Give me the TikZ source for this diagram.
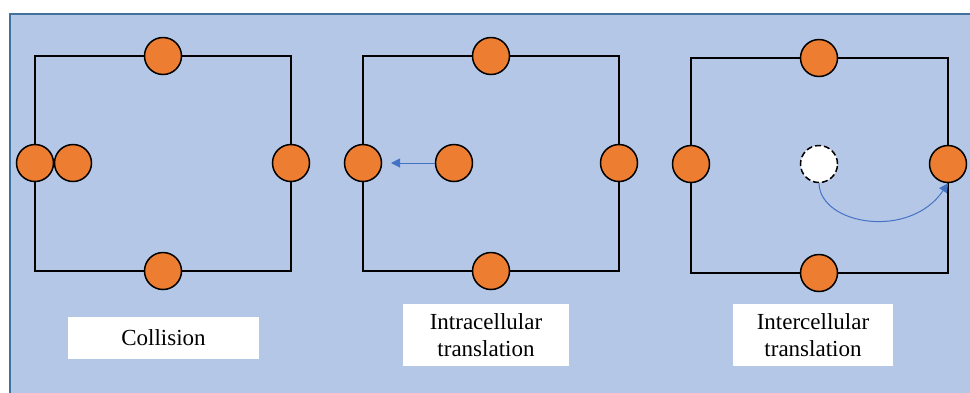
\documentclass[tikz,border=0pt]{standalone}
\usepackage{fontspec}
\setmainfont{Liberation Serif}
\usetikzlibrary{arrows.meta}
\definecolor{panelfill}{HTML}{B4C7E7}
\definecolor{panelline}{HTML}{41719C}
\definecolor{dotfill}{HTML}{ED7D31}
\definecolor{arrowblue}{HTML}{4472C4}
\tikzset{
  cellbox/.style={draw=black, line width=1.5pt},
  dot/.style={circle, draw=black, line width=1.5pt, fill=dotfill, minimum size=37pt, inner sep=0pt},
  ghost/.style={circle, draw=black, dashed, dash pattern=on 6pt off 3pt, line width=1.5pt, fill=white, minimum size=37pt, inner sep=0pt},
  labelbox/.style={fill=white, font=\fontsize{23}{27}\selectfont, align=center, inner sep=0pt},
  move/.style={draw=arrowblue, line width=1pt, -{Triangle[length=9pt,width=9pt]}}
}
\begin{document}
\begin{tikzpicture}[x=1pt,y=-1pt]
\useasboundingbox (0,0) rectangle (970,392);
\fill[white] (0,0) rectangle (970,392);
\draw[fill=panelfill, draw=panelline, line width=1.5pt] (10,14) rectangle (980,400);

% cell 1
\draw[cellbox] (35,56) rectangle (291,271);
\node[dot] (a1) at (163,56) {};
\node[dot] (a2) at (35,163) {};
\node[dot] (a3) at (73,163) {};
\node[dot] (a4) at (291,163) {};
\node[dot] (a5) at (163,271) {};
\node[labelbox, minimum width=191pt, minimum height=42pt] (l1) at (163.5,338) {Collision};

% cell 2
\draw[cellbox] (363,56) rectangle (619,271);
\node[dot] (b1) at (491,56) {};
\node[dot] (b2) at (363,163) {};
\node[dot] (b3) at (454,163) {};
\node[dot] (b4) at (619,163) {};
\node[dot] (b5) at (491,271) {};
\coordinate (b6) at (391,163);
\draw[move] (b3) -- (b6);
\node[labelbox, minimum width=166pt, minimum height=62pt] (l2) at (486,335) {Intracellular\\translation};

% cell 3
\draw[cellbox] (691,58) rectangle (948,273);
\node[dot] (c1) at (819,58) {};
\node[dot] (c2) at (691,164) {};
\node[dot] (c4) at (948,164) {};
\node[dot] (c5) at (819,273) {};
\node[ghost] (c3) at (819,164) {};
\draw[move] (c3.south) .. controls (820,225) and (910,240) .. (c4.south);
\node[labelbox, minimum width=160pt, minimum height=62pt] (l3) at (813,335) {Intercellular\\translation};
\end{tikzpicture}
\end{document}
